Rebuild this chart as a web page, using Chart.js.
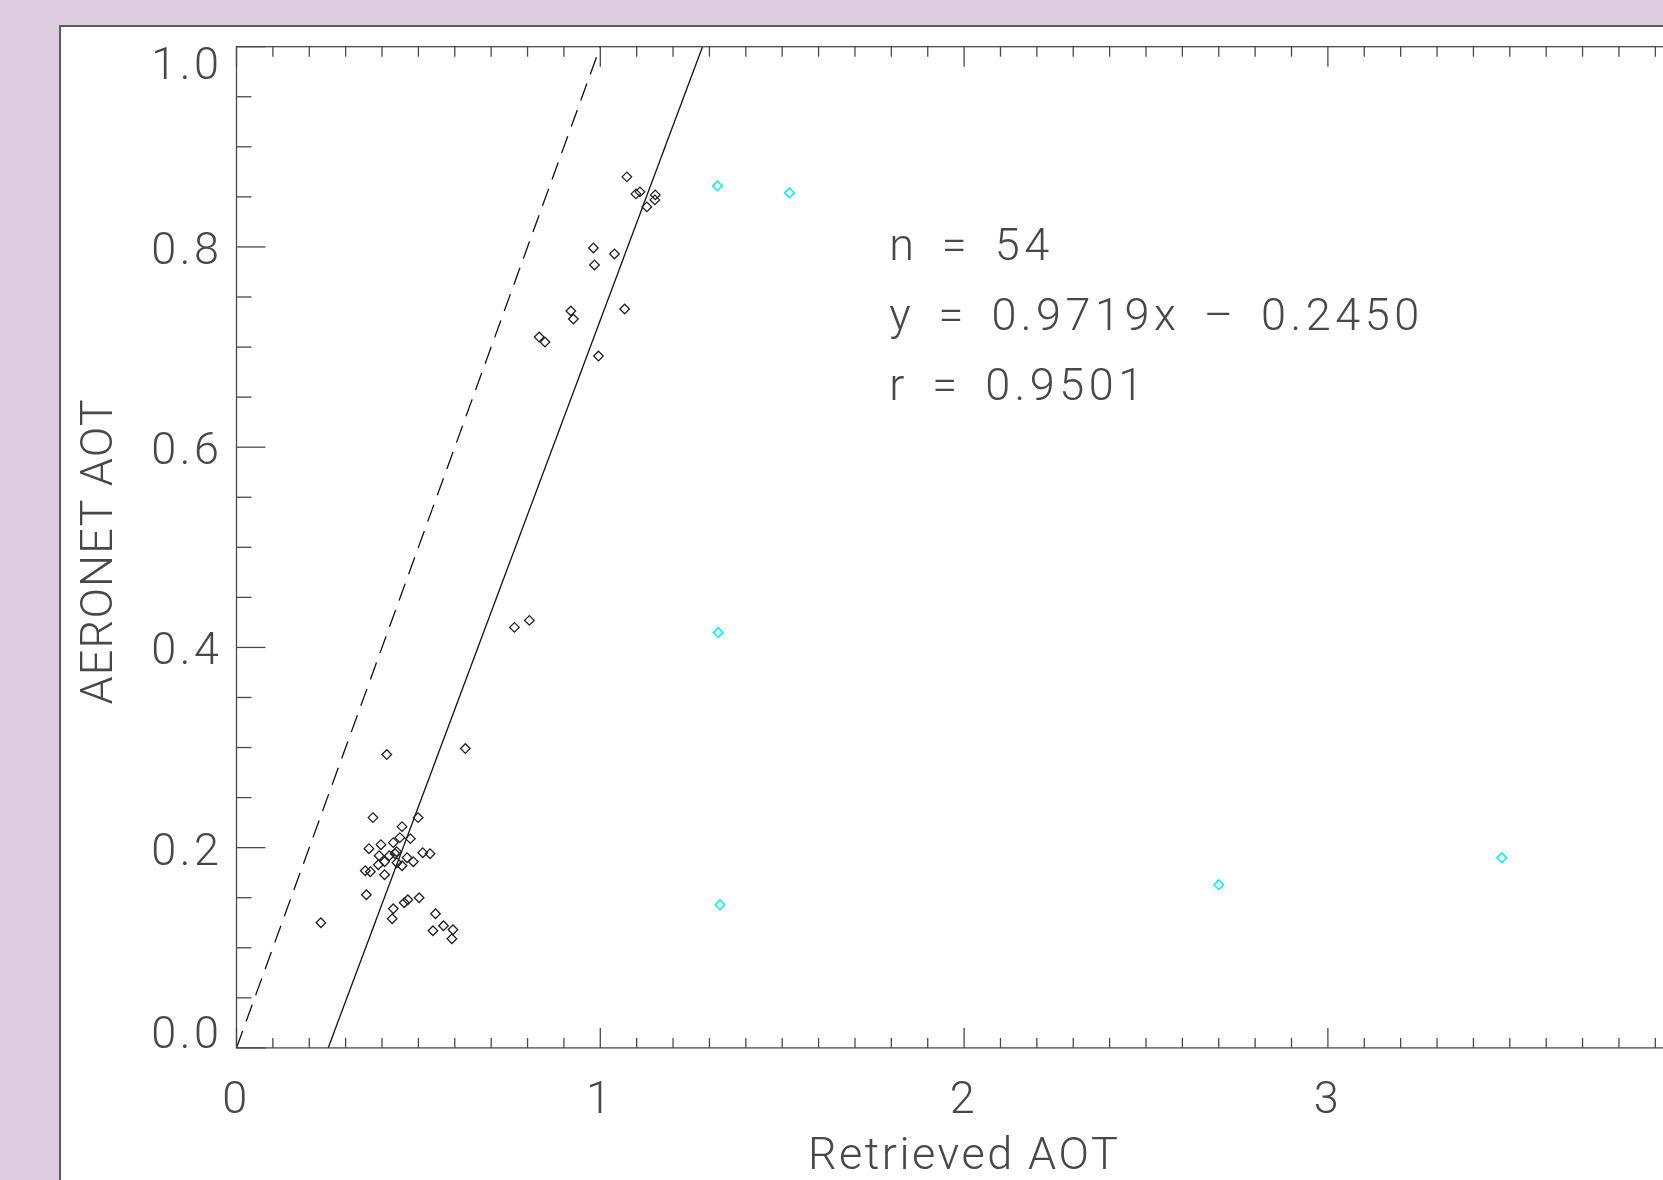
<!DOCTYPE html>
<html>
<head>
<meta charset="utf-8">
<script src="https://cdn.jsdelivr.net/npm/chart.js@4.4.1/dist/chart.umd.min.js"></script>
<style>
  html, body { margin:0; padding:0; overflow:hidden; width:1663px; height:1180px; background:#e0cce1; }
  #panel { position:absolute; left:59px; top:25px; width:1700px; height:1200px; background:#fff;
           border-left:2px solid #5b5b5b; border-top:2px solid #5b5b5b; }
  #wrap { position:absolute; left:0; top:0; width:1680px; height:1153px; }
</style>
</head>
<body>
<div id="panel"><div id="wrap"><canvas id="c" width="1680" height="1153"></canvas></div></div>
<script>
// Retrieved AOT vs AERONET AOT — black: used points, cyan: outliers
const blackX = [0.232, 0.413, 0.629, 0.375, 0.499, 0.455, 0.449, 0.478, 0.397, 0.431, 0.364, 0.440, 0.436,
  0.392, 0.420, 0.469, 0.512, 0.532, 0.407, 0.390, 0.441, 0.455, 0.486, 0.354, 0.368, 0.407, 0.357,
  0.431, 0.428, 0.461, 0.471, 0.502, 0.547, 0.569, 0.595, 0.540, 0.592,
  0.764, 0.805,
  1.073, 1.098, 1.109, 1.151, 1.150, 1.128, 0.981, 0.984, 1.039, 0.919, 0.926, 1.067, 0.832, 0.848, 0.995];
const blackY = [0.125, 0.293, 0.299, 0.230, 0.230, 0.221, 0.210, 0.209, 0.203, 0.205, 0.199, 0.196, 0.194,
  0.192, 0.192, 0.190, 0.195, 0.194, 0.186, 0.183, 0.185, 0.182, 0.186, 0.177, 0.176, 0.173, 0.153,
  0.139, 0.129, 0.145, 0.148, 0.150, 0.134, 0.122, 0.118, 0.117, 0.109,
  0.420, 0.427,
  0.870, 0.853, 0.855, 0.852, 0.847, 0.840, 0.799, 0.782, 0.793, 0.736, 0.728, 0.738, 0.710, 0.705, 0.691];
const cyanX = [1.322, 1.520, 1.324, 1.329, 2.700, 3.478];
const cyanY = [0.861, 0.854, 0.415, 0.143, 0.163, 0.190];

// fit line and 1:1 line
const fitSlope = 0.9719, fitIntercept = -0.2450;
const lineX = [0, 4];

const xTicks = [0, 1, 2, 3, 4];
const xTickLabels = ['0', '1', '2', '3', '4'];
const yTicks = [0, 0.2, 0.4, 0.6, 0.8, 1.0];
const yTickLabels = ['0.0', '0.2', '0.4', '0.6', '0.8', '1.0'];
const notes = ['n = 54', 'y = 0.9719x \u2013 0.2450', 'r = 0.9501'];

const FONT = '300 45px Roboto, "Noto Sans", sans-serif';
const INK = '#484848';

const pts = (xs, ys) => xs.map((x, i) => ({ x, y: ys[i] }));

// IDL-like axes: closed box, inward ticks, hand-placed labels
const idlAxes = {
  id: 'idlAxes',
  afterDraw(chart) {
    const { ctx, chartArea: { left, right, top, bottom } } = chart;
    const xs = chart.scales.x, ys = chart.scales.y;
    const seg = (x1, y1, x2, y2) => { ctx.beginPath(); ctx.moveTo(x1, y1); ctx.lineTo(x2, y2); ctx.stroke(); };
    ctx.save();
    ctx.strokeStyle = '#4a4a4a';
    ctx.lineWidth = 1.3;
    ctx.strokeRect(left, top, right - left, bottom - top);

    // x ticks, 10 minor per unit
    xTicks.forEach((v, i) => {
      const px = xs.getPixelForValue(v);
      seg(px, bottom, px, bottom - 20); seg(px, top, px, top + 20);
      if (i < xTicks.length - 1) {
        const step = (xTicks[i + 1] - v) / 10;
        for (let k = 1; k < 10; k++) {
          const mx = xs.getPixelForValue(v + k * step);
          seg(mx, bottom, mx, bottom - 10); seg(mx, top, mx, top + 10);
        }
      }
    });
    // y ticks, 4 minor per 0.2
    yTicks.forEach((v, i) => {
      const py = ys.getPixelForValue(v);
      seg(left, py, left + 29, py); seg(right, py, right - 24, py);
      if (i < yTicks.length - 1) {
        const step = (yTicks[i + 1] - v) / 4;
        for (let k = 1; k < 4; k++) {
          const my = ys.getPixelForValue(v + k * step);
          seg(left, my, left + 15, my); seg(right, my, right - 12, my);
        }
      }
    });

    ctx.fillStyle = INK;
    ctx.font = FONT;
    ctx.letterSpacing = '3.5px';
    ctx.textBaseline = 'alphabetic';

    ctx.textAlign = 'right';
    yTicks.forEach((v, i) => {
      const py = ys.getPixelForValue(v);
      const off = i === 0 ? 0 : (i === yTicks.length - 1 ? 32 : 17);
      ctx.fillText(yTickLabels[i], left - 14, py + off);
    });
    ctx.textAlign = 'center';
    xTicks.forEach((v, i) => ctx.fillText(xTickLabels[i], xs.getPixelForValue(v), bottom + 65));

    // axis titles
    ctx.letterSpacing = '2.5px';
    ctx.fillText(xs.options.title.text, (left + right) / 2, bottom + 121);
    ctx.save();
    ctx.letterSpacing = '1.2px';
    ctx.translate(51, (top + bottom) / 2 + 4);
    ctx.rotate(-Math.PI / 2);
    ctx.fillText(ys.options.title.text, 0, 0);
    ctx.restore();

    // statistics block
    ctx.textAlign = 'left';
    ctx.letterSpacing = '4.5px';
    ctx.wordSpacing = '8px';
    const ax = xs.getPixelForValue(1.794), ay = ys.getPixelForValue(0.787);
    notes.forEach((t, i) => ctx.fillText(t, ax, ay + i * 70));
    ctx.restore();
  }
};

new Chart(document.getElementById('c'), {
  data: {
    datasets: [
      { type: 'scatter', data: pts(blackX, blackY), pointStyle: 'rectRot', pointRadius: 4.8,
        borderColor: '#222', borderWidth: 1.3, backgroundColor: 'rgba(0,0,0,0)' },
      { type: 'scatter', data: pts(cyanX, cyanY), pointStyle: 'rectRot', pointRadius: 4.8,
        borderColor: '#00f0f0', borderWidth: 1.5, backgroundColor: 'rgba(0,0,0,0)' },
      { type: 'line', data: pts(lineX, lineX.map(x => fitSlope * x + fitIntercept)),
        borderColor: '#111', borderWidth: 1.3, pointRadius: 0, fill: false },
      { type: 'line', data: pts(lineX, lineX),
        borderColor: '#111', borderWidth: 1.3, borderDash: [18, 10], pointRadius: 0, fill: false }
    ]
  },
  options: {
    responsive: false,
    animation: false,
    devicePixelRatio: 1,
    layout: { padding: { top: 19.7, right: 49.3, left: 0, bottom: 0 } },
    plugins: { legend: { display: false }, tooltip: { enabled: false } },
    scales: {
      x: { type: 'linear', min: 0, max: 4,
           title: { display: false, text: 'Retrieved AOT' },
           grid: { display: false }, border: { display: false }, ticks: { display: false },
           afterFit: s => { s.height = 132.1; } },
      y: { type: 'linear', min: 0, max: 1,
           title: { display: false, text: 'AERONET AOT' },
           grid: { display: false }, border: { display: false }, ticks: { display: false },
           afterFit: s => { s.width = 175.5; } }
    }
  },
  plugins: [idlAxes]
});
</script>
</body>
</html>
